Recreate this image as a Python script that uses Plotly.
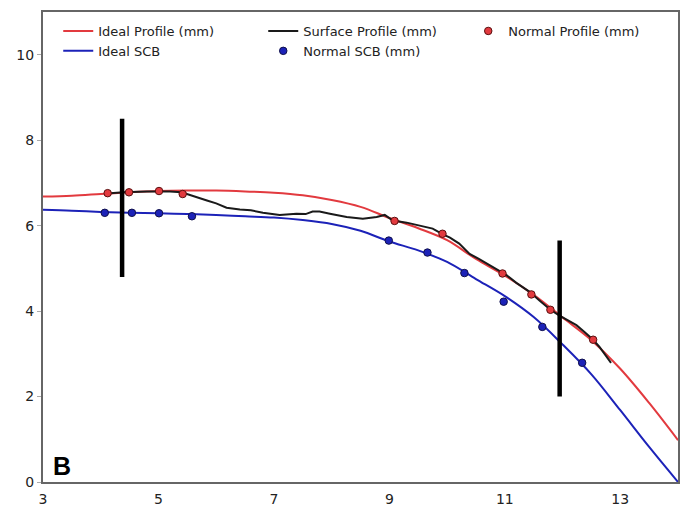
import plotly.graph_objects as go

# Ideal curves
ideal_x = [3.0, 3.5, 4.0, 4.5, 5.0, 5.5, 6.0, 6.5, 7.0, 7.5, 8.0, 8.5, 9.0, 9.5,
           10.0, 10.5, 11.0, 11.5, 12.0, 12.5, 13.0, 13.5, 14.0]
ideal_profile = [6.68, 6.70, 6.74, 6.78, 6.81, 6.82, 6.82, 6.80, 6.77, 6.71, 6.60, 6.44,
                 6.18, 5.94, 5.66, 5.22, 4.83, 4.38, 3.85, 3.32, 2.65, 1.85, 0.98]
ideal_scb = [6.37, 6.35, 6.32, 6.30, 6.29, 6.27, 6.25, 6.22, 6.19, 6.13, 6.04, 5.88,
             5.63, 5.42, 5.15, 4.75, 4.35, 3.86, 3.22, 2.52, 1.68, 0.82, 0.0]

# Surface profile
surf_x = [4.10, 4.4, 4.8, 5.2, 5.4, 5.6, 5.84, 6.0, 6.18, 6.41, 6.6, 6.81, 7.10, 7.39,
          7.55, 7.67, 7.79, 7.97, 8.26, 8.54, 8.78, 8.92, 9.06, 9.30, 9.55, 9.75, 9.92,
          10.05, 10.21, 10.39, 10.55, 10.73, 11.03, 11.2, 11.43, 11.6, 11.79, 11.94,
          12.24, 12.38, 12.53, 12.64, 12.84]
surf_y = [6.75, 6.78, 6.80, 6.80, 6.78, 6.70, 6.59, 6.52, 6.42, 6.38, 6.36, 6.30, 6.25, 6.28,
          6.27, 6.33, 6.33, 6.28, 6.20, 6.16, 6.20, 6.25, 6.12, 6.07, 6.00, 5.93, 5.80,
          5.72, 5.58, 5.34, 5.22, 5.07, 4.84, 4.66, 4.45, 4.25, 4.03, 3.90,
          3.67, 3.51, 3.33, 3.16, 2.79]

# Normal points
np_x = [4.12, 4.49, 5.01, 5.42, 9.09, 9.92, 10.96, 11.46, 11.79, 12.53]
np_y = [6.76, 6.78, 6.81, 6.74, 6.11, 5.81, 4.88, 4.39, 4.03, 3.33]
ns_x = [4.07, 4.54, 5.01, 5.58, 8.99, 9.66, 10.30, 10.98, 11.65, 12.34]
ns_y = [6.30, 6.30, 6.29, 6.22, 5.65, 5.37, 4.89, 4.22, 3.63, 2.79]

# Vertical bars
bar_x = [4.37, 11.95]
bar_low = [4.8, 2.0]
bar_high = [8.5, 5.65]

RED = "#e23a3f"
BLUE = "#1c22b8"
BLACK = "#1a1a1a"

fig = go.Figure()
fig.add_trace(go.Scatter(x=ideal_x, y=ideal_profile, mode="lines", name="Ideal Profile (mm)",
                         line=dict(color=RED, width=2, shape="spline")))
fig.add_trace(go.Scatter(x=surf_x, y=surf_y, mode="lines", name="Surface Profile (mm)",
                         line=dict(color=BLACK, width=2)))
fig.add_trace(go.Scatter(x=np_x, y=np_y, mode="markers", name="Normal Profile (mm)",
                         marker=dict(color=RED, size=7.5, line=dict(color="#5a1010", width=1))))
fig.add_trace(go.Scatter(x=ideal_x, y=ideal_scb, mode="lines", name="Ideal SCB",
                         line=dict(color=BLUE, width=2, shape="spline")))
fig.add_trace(go.Scatter(x=ns_x, y=ns_y, mode="markers", name="Normal SCB (mm)",
                         marker=dict(color=BLUE, size=7.5, line=dict(color="#10104a", width=1))))
for bx, lo, hi in zip(bar_x, bar_low, bar_high):
    fig.add_trace(go.Scatter(x=[bx, bx], y=[lo, hi], mode="lines", showlegend=False,
                             line=dict(color="black", width=4.5), hoverinfo="skip"))

fig.add_annotation(text="<b>B</b>", xref="paper", yref="paper", x=0.012, y=0.0,
                   xanchor="left", yanchor="bottom", showarrow=False,
                   font=dict(family="Liberation Sans, Arial", size=25, color="black"))

fig.update_layout(
    width=680, height=507,
    margin=dict(l=43, r=2, t=12, b=25),
    paper_bgcolor="white", plot_bgcolor="white",
    font=dict(family="DejaVu Sans", size=14, color="#222"),
    showlegend=True,
    legend=dict(orientation="h", x=0.024, y=0.9915, xanchor="left", yanchor="top",
                bgcolor="rgba(0,0,0,0)", entrywidth=160, entrywidthmode="pixels",
                font=dict(family="DejaVu Sans", size=13, color="#222"),
                tracegroupgap=0),
)
fig.update_xaxes(range=[3, 14], tickvals=[3, 5, 7, 9, 11, 13], showgrid=False, zeroline=False,
                 showline=True, mirror=True, linecolor="#666", linewidth=2, automargin=False,
                 ticks="", tickfont=dict(size=14), ticklabelstandoff=3)
fig.update_yaxes(range=[0, 11], tickvals=[0, 2, 4, 6, 8, 10], showgrid=False, zeroline=False,
                 showline=True, mirror=True, linecolor="#666", linewidth=2, automargin=False,
                 ticks="outside", ticklen=4, tickcolor="#aaa", tickfont=dict(size=14))

fig.write_html("out.html", config={"displayModeBar": False},
               post_script="document.body.style.margin='0';")
